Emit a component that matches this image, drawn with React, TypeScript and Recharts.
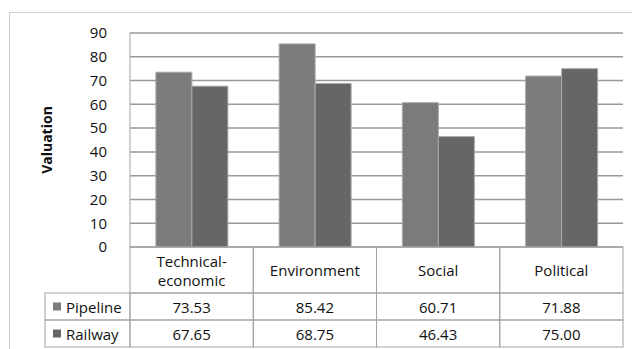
import React from "react";
import { Bar, BarChart, CartesianGrid, XAxis, YAxis } from "recharts";

const categories = ["Technical-economic", "Environment", "Social", "Political"];
const categoryLines = [["Technical-", "economic"], ["Environment"], ["Social"], ["Political"]];
const pipeline = [73.53, 85.42, 60.71, 71.88];
const railway = [67.65, 68.75, 46.43, 75.0];
const yTicks = [0, 10, 20, 30, 40, 50, 60, 70, 80, 90];

const series = [
  { key: "pipeline", name: "Pipeline", color: "#7b7b7b", values: pipeline },
  { key: "railway", name: "Railway", color: "#666666", values: railway },
];

const data = categories.map((c, i) => ({
  category: c,
  pipeline: pipeline[i],
  railway: railway[i],
}));

const W = 632;
const H = 349;
const margin = { top: 33, right: 9, bottom: 2, left: 0 };
const yAxisW = 130;
const headRowH = 46;
const rowH = 27;
const bandW = (W - margin.left - margin.right - yAxisW) / categories.length;
const legendLeft = 45;
const border = "#a3a3a3";
const textColor = "#111111";
const font = "'Open Sans', sans-serif";

// draws one column of the data table under the plot (plus the row headers for the first one)
const TableTick = (props: any) => {
  const { x, y, index } = props;
  const left = x - bandW / 2;
  const lines = categoryLines[index];
  return (
    <g fontFamily={font} fontSize={15}>
      <rect x={left} y={y} width={bandW} height={headRowH} fill="none" stroke={border} />
      {lines.map((t, i) => (
        <text
          key={t}
          x={x}
          y={y + headRowH / 2 + (i - (lines.length - 1) / 2) * 19}
          textAnchor="middle"
          dominantBaseline="central"
          fill={textColor}
        >
          {t}
        </text>
      ))}
      {series.map((s, r) => {
        const top = y + headRowH + r * rowH;
        return (
          <g key={s.key}>
            <rect x={left} y={top} width={bandW} height={rowH} fill="none" stroke={border} />
            <text x={x} y={top + rowH / 2} textAnchor="middle" dominantBaseline="central" fill={textColor}>
              {s.values[index].toFixed(2)}
            </text>
            {index === 0 && (
              <g>
                <rect x={legendLeft} y={top} width={left - legendLeft} height={rowH} fill="none" stroke={border} />
                <rect x={legendLeft + 8} y={top + rowH / 2 - 4} width={8} height={8} fill={s.color} />
                <text x={legendLeft + 21} y={top + rowH / 2} dominantBaseline="central" fill={textColor}>
                  {s.name}
                </text>
              </g>
            )}
          </g>
        );
      })}
    </g>
  );
};

const ValuationLabel = (props: any) => {
  const { viewBox } = props;
  const cy = viewBox.y + viewBox.height / 2;
  return (
    <text
      x={46}
      y={cy}
      transform={`rotate(-90, 46, ${cy})`}
      textAnchor="middle"
      dominantBaseline="central"
      fontFamily={font}
      fontSize={14}
      fontWeight="bold"
      fill={textColor}
    >
      Valuation
    </text>
  );
};

export default function App() {
  return (
    <div style={{ position: "absolute", left: 0, top: 0, width: W, height: H, background: "#fff" }}>
      <div
        style={{
          position: "absolute",
          left: 9,
          top: 12,
          width: W - 9,
          height: H - 12,
          borderLeft: "1px solid #cfcfcf",
          borderTop: "1px solid #cfcfcf",
          boxSizing: "border-box",
        }}
      />
      <BarChart
        width={W}
        height={H}
        data={data}
        margin={margin}
        barCategoryGap="21%"
        barGap={0}
        style={{ position: "absolute", left: 0, top: 0 }}
      >
        <CartesianGrid vertical={false} stroke="#999999" strokeWidth={1.5} />
        <XAxis
          dataKey="category"
          height={headRowH + 2 * rowH}
          interval={0}
          tickLine={false}
          axisLine={false}
          tickSize={0}
          tickMargin={0}
          tick={TableTick}
        />
        <YAxis
          width={yAxisW}
          domain={[0, 90]}
          ticks={yTicks}
          interval={0}
          tickLine={false}
          tickMargin={17}
          axisLine={{ stroke: border }}
          tick={{ fill: textColor, fontSize: 15, fontFamily: font }}
          label={<ValuationLabel />}
        />
        {series.map((s) => (
          <Bar
            key={s.key}
            dataKey={s.key}
            name={s.name}
            fill={s.color}
            stroke="#a9a9a9"
            strokeWidth={1}
            isAnimationActive={false}
          />
        ))}
      </BarChart>
    </div>
  );
}
